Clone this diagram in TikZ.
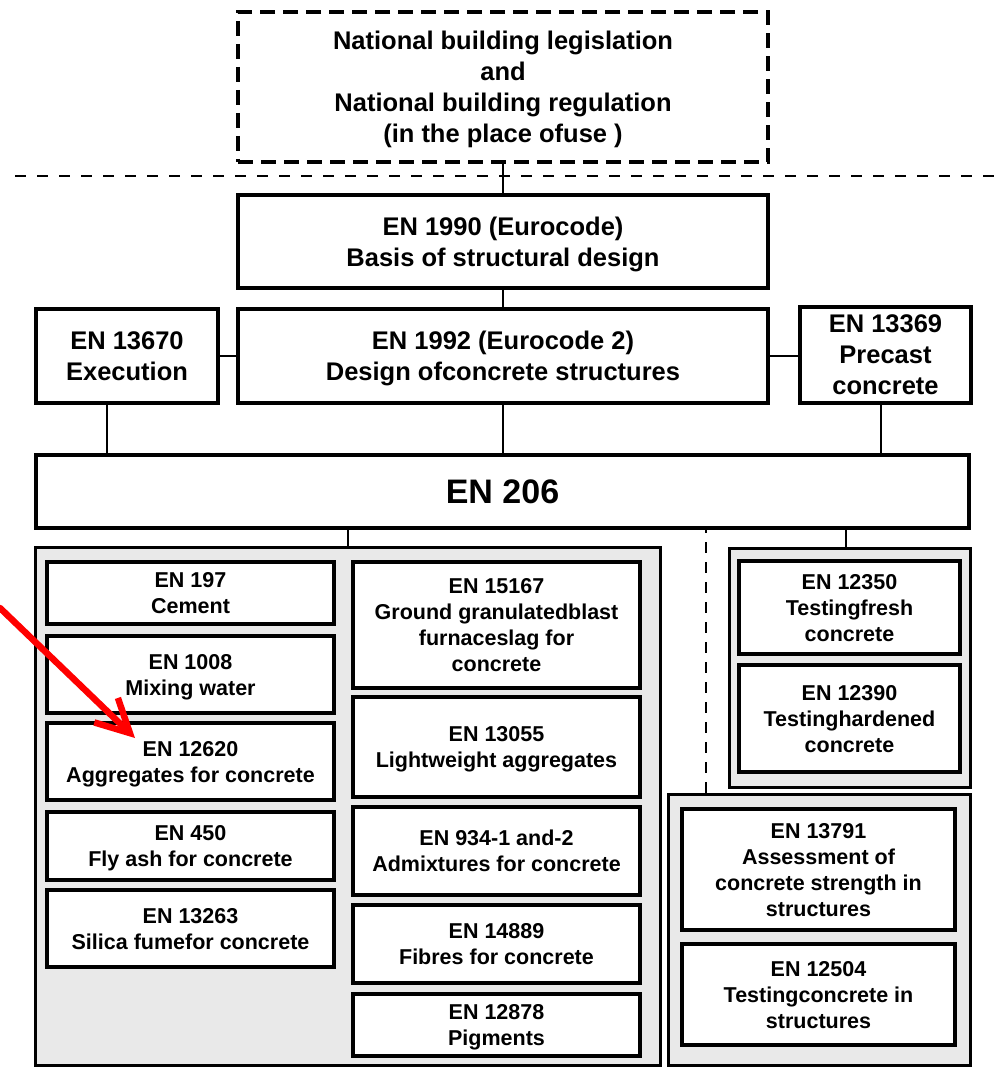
\documentclass[tikz,border=0pt]{standalone}
\usepackage{fontspec}
\setmainfont{Liberation Sans}
\usetikzlibrary{arrows.meta}
\tikzset{std/.style={rectangle,draw=black,line width=3.5pt,fill=white,inner sep=0pt,
align=center,text depth=0pt,font=\fontsize{25.5}{31}\selectfont\bfseries},
item/.style={std,font=\fontsize{21.5}{26}\selectfont\bfseries},
hdr/.style={std,font=\fontsize{34}{40}\selectfont\bfseries},
law/.style={std,line width=4.5pt,dash pattern=on 15pt off 8pt},
panel/.style={rectangle,draw=black,line width=3pt,fill=gray!17,inner sep=0pt},
link/.style={color=black,line width=2pt},
cut/.style={link,line width=2.5pt,dash pattern=on 11pt off 11pt},
hint/.style={color=red,line width=6.5pt,line cap=round,line join=round,
-{Straight Barb[length=33pt,width=34pt]}}}

\begin{document}
\begin{tikzpicture}[x=1pt,y=-1pt]
  \useasboundingbox (0,0) rectangle (1000,1067);
  % national level
  \node (law) [law, minimum width=530, minimum height=150] at (503,87)
    {National building legislation\\and\\National building regulation\\(in the place ofuse )};
  \coordinate (sepw) at (15,176);
  \coordinate (sepe) at (1000,176);
  \draw [cut] (sepw) -- (sepe);
  % eurocodes
  \node (en1990) [std, minimum width=530, minimum height=93] at (503,241.5)
    {EN 1990 (Eurocode)\\Basis of structural design};
  \node (en1992) [std, minimum width=530, minimum height=94] at (503,356)
    {EN 1992 (Eurocode 2)\\Design ofconcrete structures};
  \node (en13670) [std, minimum width=182, minimum height=94] at (127,356)
    {EN 13670\\Execution};
  \node (en13369) [std, minimum width=171, minimum height=96] at (885.5,355)
    {EN 13369\\Precast\\concrete};
  \node (en206) [hdr, minimum width=933, minimum height=73] at (502.5,491.5) {EN 206};
  % panels
  \node (pmat) [panel, minimum width=625, minimum height=518] at (347.5,806) {};
  \node (pfresh) [panel, minimum width=241, minimum height=239] at (849.5,667.5) {};
  \node (pstruct) [panel, minimum width=302, minimum height=271] at (819,929.5) {};
  % constituents
  \node (en197) [item, minimum width=287, minimum height=62] at (190.5,593) {EN 197\\Cement};
  \node (en1008) [item, minimum width=287, minimum height=77] at (190.5,674.5) {EN 1008\\Mixing water};
  \node (en12620) [item, minimum width=287, minimum height=77] at (190.5,761.5) {EN 12620\\Aggregates for concrete};
  \node (en450) [item, minimum width=287, minimum height=68] at (190.5,846) {EN 450\\Fly ash  for concrete};
  \node (en13263) [item, minimum width=287, minimum height=77] at (190.5,928.5) {EN 13263\\Silica fumefor   concrete};
  \node (en15167) [item, minimum width=287, minimum height=126] at (496.5,625)
    {EN 15167\\Ground granulatedblast\\furnaceslag  for\\concrete};
  \node (en13055) [item, minimum width=287, minimum height=100] at (496.5,747) {EN 13055\\Lightweight aggregates};
  \node (en934) [item, minimum width=287, minimum height=88] at (496.5,851) {EN 934-1 and-2\\Admixtures for concrete};
  \node (en14889) [item, minimum width=287, minimum height=78] at (496.5,944) {EN 14889\\Fibres for concrete};
  \node (en12878) [item, minimum width=287, minimum height=62] at (496.5,1025) {EN 12878\\Pigments};
  % testing
  \node (en12350) [item, minimum width=221, minimum height=93] at (849.5,607.5) {EN 12350\\Testingfresh\\concrete};
  \node (en12390) [item, minimum width=221, minimum height=107] at (849.5,718.5) {EN 12390\\Testinghardened\\concrete};
  \node (en13791) [item, minimum width=273, minimum height=121] at (818.5,869.5)
    {EN 13791\\Assessment of\\concrete strength in\\structures};
  \node (en12504) [item, minimum width=273, minimum height=101] at (818.5,994.5)
    {EN 12504\\Testingconcrete  in\\structures};
  % connectors
  \draw [link] (law) -- (en1990) -- (en1992);
  \draw [link] (en13670) -- (en1992);
  \draw [link] (en1992.east) -- (en1992.east -| en13369.west);
  \draw [link] ([xshift=-20pt]en13670.south) -- ([xshift=-20pt]en13670.south |- en206.north);
  \draw [link] (en1992.south) -- (en1992.south |- en206.north);
  \draw [link] ([xshift=-5pt]en13369.south) -- ([xshift=-5pt]en13369.south |- en206.north);
  \draw [link] (pmat.north) -- (pmat.north |- en206.south);
  \draw [link] ([xshift=-4pt]pfresh.north) -- ([xshift=-4pt]pfresh.north |- en206.south);
  \draw [link, dash pattern=on 11pt off 9pt] ([xshift=39pt]pstruct.north west)
    -- ([xshift=39pt]pstruct.north west |- en206.south);
  % red pointer
  \coordinate (hintfrom) at (0,608);
  \coordinate (hintto) at (135,738);
  \draw [hint] (hintfrom) -- (hintto);
\end{tikzpicture}
\end{document}
